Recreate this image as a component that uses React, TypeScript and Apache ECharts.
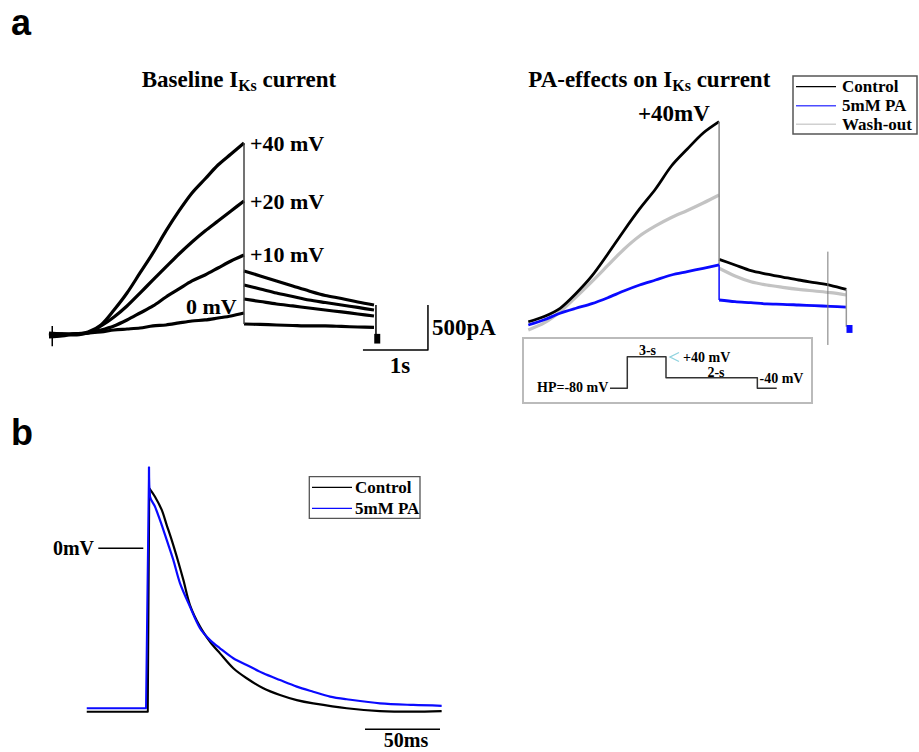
import React, { useEffect, useRef } from "react";
import * as echarts from "echarts";

// ---------- Panel a (left): baseline IKs current, time in s, current in pA ----------
const riseT = [0, 0.2, 0.4, 0.6, 0.8, 1.0, 1.2, 1.4, 1.6, 1.8, 2.0, 2.2, 2.4, 2.6, 2.8, 3.0];
const tailT = [3.0, 3.25, 3.5, 3.75, 4.0, 4.25, 4.5, 4.75, 5.0];
const base40Rise = [-23, -11, -11, 11, 91, 261, 454, 682, 909, 1159, 1386, 1590, 1749, 1908, 2033, 2158];
const base20Rise = [-45, -34, -11, 0, 80, 182, 307, 454, 602, 750, 897, 1034, 1159, 1272, 1386, 1500];
const base10Rise = [0, -11, -23, 0, 34, 80, 148, 227, 307, 409, 500, 591, 659, 738, 818, 886];
const base0Rise = [-34, -23, -11, 0, 11, 34, 45, 57, 80, 91, 114, 136, 148, 170, 193, 227];
const base40Tail = [704, 648, 591, 534, 477, 426, 392, 352, 318];
const base20Tail = [545, 500, 454, 415, 375, 346, 318, 290, 261];
const base10Tail = [386, 358, 329, 307, 284, 261, 239, 216, 193];
const base0Tail = [102, 97, 91, 85, 80, 80, 74, 68, 63];
const baseLabels = ["+40 mV", "+20 mV", "+10 mV", "0 mV"];

// ---------- Panel a (right): PA effects ----------
const paT = [0, 0.25, 0.5, 0.75, 1.0, 1.25, 1.5, 1.75, 2.0, 2.25, 2.5, 2.75, 3.0];
const ctrlRise = [37, 97, 190, 358, 557, 806, 1068, 1318, 1545, 1806, 1999, 2181, 2310];
const washRise = [-57, 23, 151, 318, 494, 676, 858, 1011, 1125, 1221, 1301, 1386, 1477];
const paRise = [0, 60, 133, 190, 242, 310, 386, 454, 511, 568, 606, 644, 682];
const ctrlTail = [746, 682, 617, 579, 545, 511, 481, 451, 405];
const washTail = [644, 557, 492, 454, 428, 405, 386, 367, 341];
const paTail = [284, 265, 253, 239, 235, 227, 219, 212, 204];
const legendA = ["Control", "5mM PA", "Wash-out"];

// ---------- Voltage protocol (schematic) ----------
const protoT = [0, 1.34, 1.34, 4.34, 4.34, 11.42, 11.42, 12.92];
const protoV = [-80, -80, 40, 40, -40, -40, -80, -80];

// ---------- Panel b: action potentials, time in ms, voltage in mV ----------
const apCtrlT = [-39.5, 0, 1.2, 2.2, 6, 10.5, 13.8, 17.1, 20.5, 24.9, 29.3, 36, 42.7, 49.3, 58.2, 67.1, 78.2, 89.3, 100.5, 111.5, 133.8, 156, 178.2, 197.1];
const apCtrlV = [-80.1, -80.1, -80.1, 29.4, 25.3, 18.8, 11.4, 4.1, -4.1, -15.5, -27.8, -38.4, -45.8, -51.5, -58.8, -63.7, -68.6, -71.9, -74.4, -76, -78.4, -79.8, -80.1, -79.8];
const apPaT = [-39.5, 0, 0.4, 2.0, 2.7, 6, 10.5, 13.8, 18.2, 22.7, 29.3, 36, 42.7, 49.3, 58.2, 67.1, 78.2, 89.3, 100.5, 111.5, 122.7, 133.8, 156, 178.2, 197.1];
const apPaV = [-78.4, -78.4, -78.4, 40, 25.3, 20.4, 11.4, 4.1, -5.7, -17.2, -28.6, -39.2, -45, -49, -53.9, -57.2, -61.3, -64.6, -67.8, -70.3, -72.7, -74, -76, -76.8, -77.2];
const legendB = ["Control", "5mM PA"];

const zip = (t: number[], v: number[]) => t.map((x, i) => [x, v[i]]);
const SERIF = "'Liberation Serif', 'Times New Roman', serif";
const SANS = "'Liberation Sans', Arial, sans-serif";
const BLUE = "#0a0aff";
const GRAY = "#c3c3c3";

function line(data: number[][], idx: number, color: string, width: number, smooth = false) {
  return {
    type: "line",
    data,
    xAxisIndex: idx,
    yAxisIndex: idx,
    showSymbol: false,
    symbol: "none",
    silent: true,
    clip: false,
    smooth: smooth ? 0.3 : false,
    lineStyle: { color, width, cap: "butt", join: "round" },
  };
}

function txt(text: string, x: number, y: number, size: number, align = "left", color = "#000", font = SERIF, weight = "bold") {
  return {
    type: "text",
    x,
    y,
    silent: true,
    style: {
      text,
      fill: color,
      fontSize: size,
      fontFamily: font,
      fontWeight: weight,
      textAlign: align,
      textVerticalAlign: "middle",
    },
  };
}

function title(pre: string, x: number, y: number) {
  return {
    type: "text",
    x,
    y,
    silent: true,
    style: {
      text: `{m|${pre}I}{s|Ks}{m| current}`,
      textVerticalAlign: "middle",
      rich: {
        m: { fontSize: 23, fontWeight: "bold", fontFamily: SERIF, lineHeight: 28, fill: "#000" },
        s: { fontSize: 16, fontWeight: "bold", fontFamily: SERIF, lineHeight: 16, verticalAlign: "bottom", fill: "#000" },
      },
    },
  };
}

function hline(x1: number, y1: number, x2: number, y2: number, color: string, w: number) {
  return { type: "line", silent: true, shape: { x1, y1, x2, y2 }, style: { stroke: color, lineWidth: w } };
}

export default function App() {
  const ref = useRef<HTMLDivElement>(null);
  useEffect(() => {
    if (!ref.current) return;
    const chart = echarts.init(ref.current, undefined, { renderer: "svg" });

    const grids = [
      { left: 49, top: 121.7, width: 422.5, height: 246.5 },
      { left: 528.3, top: 96.1, width: 337.1, height: 264.1 },
      { left: 610, top: 351.4, width: 166.7, height: 42.2 },
      { left: 86, top: 456.5, width: 360, height: 275.4 },
    ];
    const xr = [[0, 6.5], [0, 5.3], [0, 12.92], [-40, 200]];
    const yr = [[-400, 2400], [-400, 2600], [-100, 60], [-90, 45]];

    const ctrlPre = zip(apCtrlT, apCtrlV).slice(0, 4);
    const ctrlPost = zip(apCtrlT, apCtrlV).slice(3);
    const paPre = zip(apPaT, apPaV).slice(0, 4);
    const paPost = zip(apPaT, apPaV).slice(3);

    const series: any[] = [
      // panel a left
      line(zip(riseT, base0Rise), 0, "#000", 3.2, true),
      line(zip(riseT, base10Rise), 0, "#000", 3.2, true),
      line(zip(riseT, base20Rise), 0, "#000", 3.2, true),
      line(zip(riseT, base40Rise), 0, "#000", 3.2, true),
      line(zip(tailT, base0Tail), 0, "#000", 3.2, true),
      line(zip(tailT, base10Tail), 0, "#000", 3.2, true),
      line(zip(tailT, base20Tail), 0, "#000", 3.2, true),
      line(zip(tailT, base40Tail), 0, "#000", 3.2, true),
      line([[3, base40Rise[base40Rise.length - 1]], [3, base0Tail[0]]], 0, "#444", 1.5),
      line([[0.05, 80], [0.05, -150]], 0, "#000", 1.5),
      line([[5.03, base40Tail[8]], [5.03, -40]], 0, "#000", 1.5),
      line([[5.05, -10], [5.05, -120]], 0, "#000", 6),
      line([[4.83, -193], [5.83, -193], [5.83, 318]], 0, "#000", 1.5),
      // panel a right
      line(zip(paT, washRise), 1, GRAY, 3.2, true),
      line(zip(paT, ctrlRise), 1, "#000", 2.8, true),
      line(zip(tailT, washTail), 1, GRAY, 3.2, true),
      line(zip(tailT, ctrlTail), 1, "#000", 2.8, true),
      line([[3, ctrlRise[ctrlRise.length - 1]], [3, paRise[paRise.length - 1]]], 1, "#888", 1.5),
      line(zip(paT, paRise), 1, BLUE, 2.8, true),
      line([[3, paRise[paRise.length - 1]], [3, paTail[0]]], 1, BLUE, 1.5),
      line(zip(tailT, paTail), 1, BLUE, 2.8, true),
      line([[5.0, ctrlTail[8]], [5.0, -20]], 1, "#999", 1.5),
      line([[5.05, 0], [5.05, -90]], 1, BLUE, 6),
      line([[4.71, 833], [4.71, -227]], 1, "#777", 1),
      // protocol
      line(zip(protoT, protoV), 2, "#333", 1.5),
      // panel b
      line([[-31.8, 0], [-1.8, 0]], 3, "#000", 1.5),
      line(ctrlPre, 3, "#000", 2),
      line(ctrlPost, 3, "#000", 2.2, true),
      line(paPre, 3, BLUE, 2),
      line(paPost, 3, BLUE, 2.2, true),
      line([[146, -88.7], [196, -88.7]], 3, "#000", 1.5),
    ];

    const graphic: any[] = [
      txt("a", 11, 22, 36, "left", "#000", SANS),
      txt("b", 11, 432, 36, "left", "#000", SANS),
      title("Baseline ", 141.7, 79),
      title("PA-effects on ", 528.3, 79),
      txt(baseLabels[0], 250, 143, 22),
      txt(baseLabels[1], 250, 201, 22),
      txt(baseLabels[2], 250, 254, 22),
      txt(baseLabels[3], 186, 306, 22),
      txt("500pA", 432, 327, 23),
      txt("1s", 400, 365, 23, "center"),
      txt("+40mV", 638, 113, 23),
      // legend a
      { type: "rect", silent: true, shape: { x: 793, y: 76, width: 124, height: 58 }, style: { fill: "#fff", stroke: "#555", lineWidth: 1.5 } },
      hline(796, 86.7, 836, 86.7, "#000", 1.2),
      hline(796, 105.7, 836, 105.7, "#4c4cff", 1.5),
      hline(796, 124.3, 836, 124.3, "#d0d0d0", 1.5),
      txt(legendA[0], 842, 86.7, 17),
      txt(legendA[1], 842, 105.7, 17),
      txt(legendA[2], 842, 124.3, 17),
      // protocol inset
      { type: "rect", silent: true, shape: { x: 523, y: 338, width: 289, height: 65 }, style: { fill: "none", stroke: "#bbb", lineWidth: 2 } },
      txt("HP=-80 mV", 537, 387, 14),
      txt("3-s", 647.5, 350, 14, "center"),
      { type: "polyline", silent: true, shape: { points: [[679, 352.5], [670, 357], [679, 361.5]] }, style: { stroke: "#8fd3df", lineWidth: 1.3, fill: "none" } },
      txt("+40 mV", 683, 357, 14),
      txt("2-s", 716, 372, 14, "center"),
      txt("-40 mV", 759.5, 378, 14),
      // panel b
      txt("0mV", 94, 548.3, 20, "right"),
      txt("50ms", 406, 740, 20, "center"),
      { type: "rect", silent: true, shape: { x: 309.3, y: 476.7, width: 110.7, height: 41.6 }, style: { fill: "#fff", stroke: "#555", lineWidth: 1.3 } },
      hline(312, 487.3, 352, 487.3, "#000", 1.3),
      hline(312, 508.3, 352, 508.3, BLUE, 1.3),
      txt(legendB[0], 355, 487.3, 17),
      txt(legendB[1], 355, 508.3, 17),
    ];

    chart.setOption({
      animation: false,
      backgroundColor: "#fff",
      grid: grids.map((g) => ({ ...g, containLabel: false })),
      xAxis: xr.map((r, i) => ({ type: "value", gridIndex: i, min: r[0], max: r[1], show: false })),
      yAxis: yr.map((r, i) => ({ type: "value", gridIndex: i, min: r[0], max: r[1], show: false })),
      series,
      graphic,
    });
    return () => chart.dispose();
  }, []);
  return <div ref={ref} style={{ position: "fixed", left: 0, top: 0, width: 919, height: 752, background: "#fff" }} />;
}
